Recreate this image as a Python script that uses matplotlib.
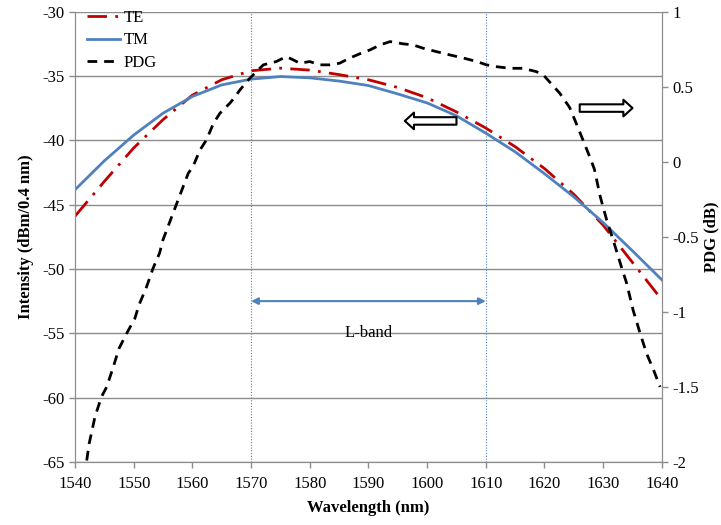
import matplotlib
matplotlib.use("Agg")
import matplotlib.pyplot as plt

plt.rcParams['font.family'] = ['Liberation Serif', 'DejaVu Serif']
plt.rcParams['axes.unicode_minus'] = False

# Intensity spectra, dBm/0.4 nm
wl = [1540, 1545, 1550, 1555, 1560, 1565, 1570, 1575, 1580, 1585, 1590,
      1595, 1600, 1605, 1610, 1615, 1620, 1625, 1630, 1635, 1640]
te = [-45.9, -43.2, -40.6, -38.4, -36.5, -35.3, -34.6, -34.4, -34.55, -34.9, -35.3,
      -35.9, -36.7, -37.8, -39.05, -40.5, -42.2, -44.2, -46.6, -49.5, -52.4]
tm = [-43.85, -41.6, -39.6, -37.9, -36.6, -35.7, -35.25, -35.05, -35.15, -35.4, -35.75,
      -36.4, -37.1, -38.1, -39.45, -40.9, -42.6, -44.4, -46.4, -48.6, -50.85]

# polarization dependent gain, dB
pdg_wl = [1542.0, 1542.4, 1543.4, 1544.5, 1545.4, 1546.5, 1547.5, 1548.8, 1550.2, 1550.9,
          1552.2, 1553.3, 1554.4, 1555.0, 1556.7, 1558.2, 1559.3, 1560.1, 1561.3, 1562.4,
          1563.6, 1564.7, 1566.4, 1567.3, 1568.1, 1569.8, 1570.9, 1572.1, 1573.2, 1574.3,
          1576.0, 1577.2, 1578.3, 1580.0, 1581.7, 1583.4, 1585.1, 1586.8, 1588.6, 1590.3,
          1592.0, 1593.7, 1595.9, 1597.6, 1599.3, 1601.6, 1603.9, 1606.2, 1608.5, 1610.1,
          1611.8, 1614.1, 1616.3, 1618.6, 1619.8, 1620.9, 1622.6, 1624.3, 1625.4, 1626.6,
          1627.7, 1628.5, 1629.5, 1630.6, 1631.7, 1633.1, 1634.0, 1635.1, 1636.3, 1637.4,
          1638.6, 1639.7]
pdg = [-1.99, -1.88, -1.70, -1.567, -1.50, -1.37, -1.244, -1.144, -1.044, -0.955,
       -0.833, -0.71, -0.61, -0.52, -0.344, -0.19, -0.077, -0.033, 0.078, 0.145,
       0.256, 0.323, 0.39, 0.433, 0.478, 0.556, 0.60, 0.645, 0.656, 0.667,
       0.70, 0.678, 0.656, 0.667, 0.645, 0.645, 0.656, 0.69, 0.72, 0.745,
       0.778, 0.80, 0.785, 0.778, 0.756, 0.733, 0.711, 0.69, 0.667, 0.645,
       0.633, 0.622, 0.622, 0.60, 0.578, 0.53, 0.456, 0.36, 0.256, 0.14,
       0.033, -0.05, -0.233, -0.389, -0.522, -0.70, -0.81, -0.989, -1.144, -1.278,
       -1.389, -1.5]

band_edges = [1570, 1610]
x_ticks = list(range(1540, 1641, 10))
left_ticks = list(range(-65, -29, 5))
right_ticks = [-2, -1.5, -1, -0.5, 0, 0.5, 1]

GRAY = '#8c8c8c'
BLUE = '#4f81bd'
RED = '#c00000'

fig = plt.figure(figsize=(7.21, 5.25), dpi=100)
ax = fig.add_axes([0.104, 0.12, 0.814, 0.858])
ax2 = ax.twinx()

for b in band_edges:
    ax.axvline(b, color=BLUE, lw=0.8, ls=(0, (1, 1.5)), zorder=1)

l_te, = ax.plot(wl, te, color=RED, lw=2, ls=(0, (7, 3, 1, 3)), label='TE', zorder=3)
l_tm, = ax.plot(wl, tm, color=BLUE, lw=2, label='TM', zorder=3)
l_pdg, = ax2.plot(pdg_wl, pdg, color='black', lw=2, ls=(0, (3.5, 2.5)), label='PDG')

ax.set_xlim(1540, 1640)
ax.set_ylim(-65, -30)
ax2.set_ylim(-2, 1)
ax.set_xticks(x_ticks)
ax.set_yticks(left_ticks)
ax2.set_yticks(right_ticks)
ax2.set_yticklabels([f'{v:g}' for v in right_ticks])

ax.grid(axis='y', color=GRAY, lw=1)
ax.set_axisbelow(True)
for a in (ax, ax2):
    a.spines['top'].set_visible(False)
    for s in ('left', 'right', 'bottom'):
        a.spines[s].set_color(GRAY)
    a.tick_params(colors=GRAY, labelcolor='black', labelsize=12, length=4, width=1)
ax.tick_params(axis='x', pad=6)

ax.set_xlabel('Wavelength (nm)', fontsize=12, fontweight='bold', labelpad=6)
ax.set_ylabel('Intensity (dBm/0.4 nm)', fontsize=12, fontweight='bold', labelpad=6)
ax2.set_ylabel('PDG (dB)', fontsize=12, fontweight='bold', labelpad=3)

# L-band span marker
ax.annotate('', xy=(band_edges[0], -52.5), xytext=(band_edges[1], -52.5),
            arrowprops=dict(arrowstyle='<|-|>', color=BLUE, lw=1.5, mutation_scale=10,
                            shrinkA=0, shrinkB=0))
ax.text(1590, -55.0, 'L-band', ha='center', va='center', fontsize=12)

# hollow arrows pointing to the axis each curve belongs to
hollow = dict(arrowstyle='simple,head_width=1.0,tail_width=0.45,head_length=0.55',
              fc='white', ec='black', lw=1.5, mutation_scale=12, shrinkA=0, shrinkB=0)
ax.annotate('', xy=(1596.2, -38.5), xytext=(1605, -38.5), arrowprops=hollow)
ax.annotate('', xy=(1635, -37.5), xytext=(1626, -37.5), arrowprops=hollow)

ax.legend(handles=[l_te, l_tm, l_pdg], loc='upper left', bbox_to_anchor=(0.0, 1.03),
          frameon=False, fontsize=12, handlelength=2.0, handletextpad=0.2,
          labelspacing=0.4, borderaxespad=0.3)

fig.savefig('out.png', dpi=100)
